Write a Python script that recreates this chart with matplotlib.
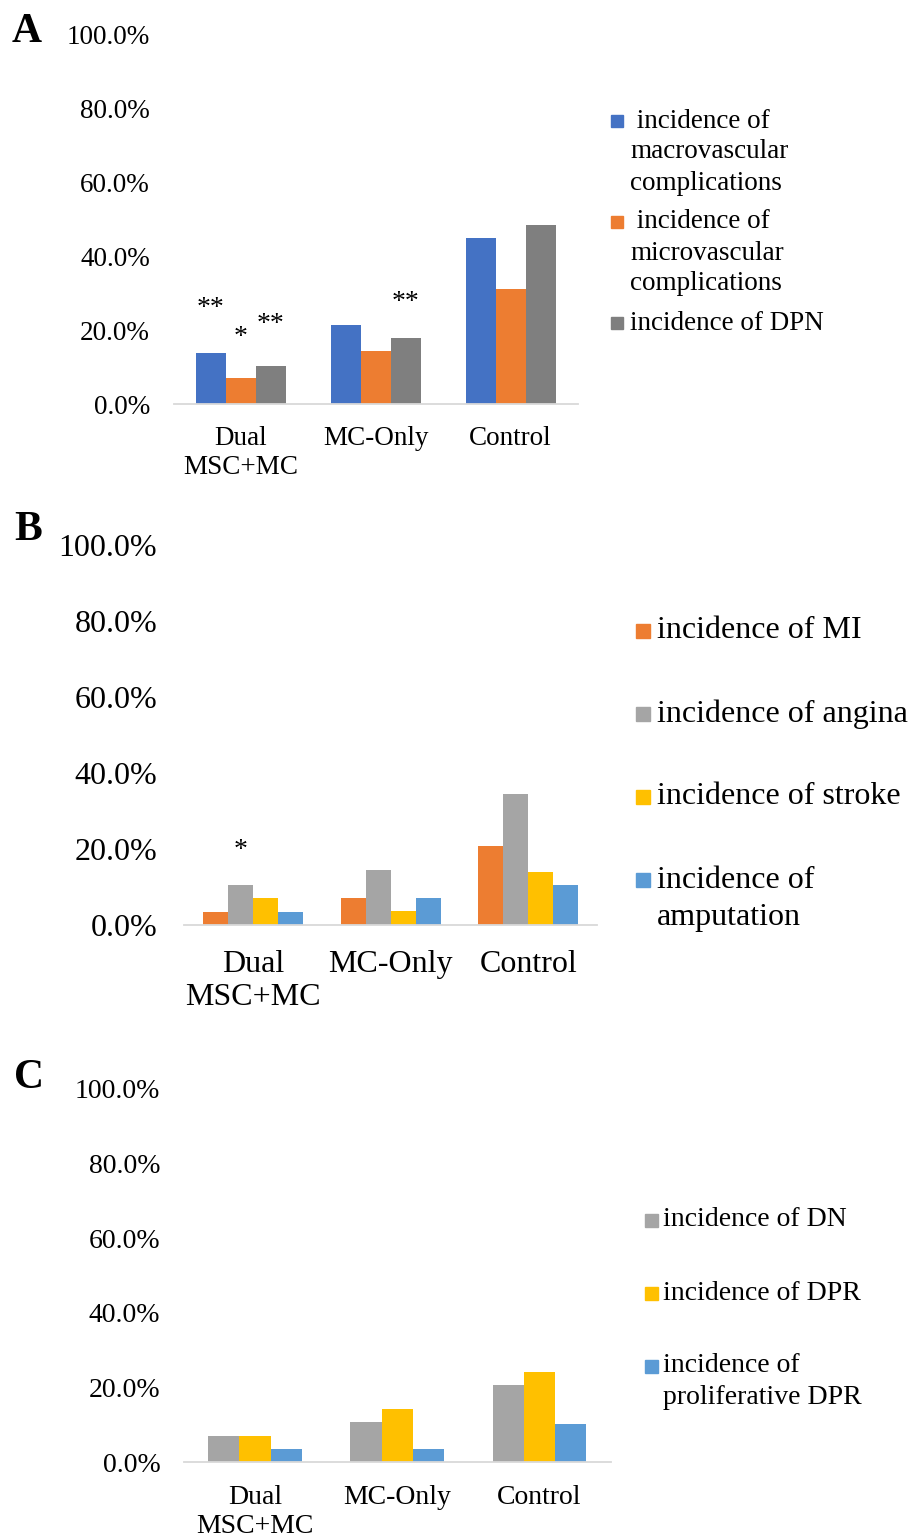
import matplotlib
matplotlib.use("Agg")
import matplotlib.pyplot as plt
from matplotlib.patches import Rectangle
import numpy as np

# --- data (percent) ---
groups = ["Dual\nMSC+MC", "MC-Only", "Control"]

a_labels = [" incidence of\nmacrovascular\ncomplications",
            " incidence of\nmicrovascular\ncomplications",
            "incidence of DPN"]
a_macro = [13.8, 21.4, 44.8]
a_micro = [6.9, 14.3, 31.0]
a_dpn = [10.3, 17.9, 48.3]

b_labels = ["incidence of MI", "incidence of angina",
            "incidence of stroke", "incidence of\namputation"]
b_mi = [3.4, 7.1, 20.7]
b_angina = [10.3, 14.3, 34.5]
b_stroke = [6.9, 3.6, 13.8]
b_amput = [3.4, 7.1, 10.3]

c_labels = ["incidence of DN", "incidence of DPR",
            "incidence of\nproliferative DPR"]
c_dn = [6.9, 10.7, 20.7]
c_dpr = [6.9, 14.3, 24.1]
c_pdpr = [3.4, 3.6, 10.3]

# significance marks: (group, series, text, y of star centre in %)
a_stars = [(0, 0, "**", 28.2), (0, 1, "*", 20.3), (0, 2, "**", 23.8), (1, 2, "**", 29.8)]
b_stars = [(0, 1, "*", 21.8)]

BLUE, ORANGE, DGRAY = "#4472C4", "#ED7D31", "#7F7F7F"
GRAY, YELLOW, LBLUE = "#A5A5A5", "#FFC000", "#5B9BD5"

plt.rcParams["font.family"] = ["Liberation Serif", "DejaVu Serif"]

W, H = 909, 1540
fig = plt.figure(figsize=(W / 100, H / 100), dpi=100)


def px_axes(left, right, top, bottom):
    return fig.add_axes([left / W, 1 - bottom / H, (right - left) / W, (bottom - top) / H])


def panel(ax, series, colors, group_w, fs, ypad, xpad, stars, star_fs):
    n = len(series)
    x = np.arange(len(groups))
    bw = group_w / n
    for i, (vals, c) in enumerate(zip(series, colors)):
        ax.bar(x - group_w / 2 + bw * (i + 0.5), vals, width=bw, color=c, zorder=2)
    for g, s, txt, y in stars:
        ax.annotate(txt, xy=(g - group_w / 2 + bw * (s + 0.5), y),
                    xytext=(0, -0.54 * star_fs), textcoords="offset points",
                    ha="center", va="baseline", fontsize=star_fs)
    ax.set_xlim(-0.5, len(groups) - 0.5)
    ax.set_ylim(0, 100)
    ax.set_yticks([0, 20, 40, 60, 80, 100])
    ax.set_yticklabels([f"{v:.1f}%" for v in [0, 20, 40, 60, 80, 100]])
    ax.set_xticks(x)
    ax.set_xticklabels(groups)
    ax.tick_params(axis="y", length=0, pad=ypad, labelsize=fs)
    ax.tick_params(axis="x", length=0, pad=xpad, labelsize=fs)
    for sp in ["top", "right", "left"]:
        ax.spines[sp].set_visible(False)
    ax.spines["bottom"].set_color("#D9D9D9")
    ax.spines["bottom"].set_linewidth(1.3)
    ax.set_facecolor("none")


def legend(labels, colors, x_box, x_text, y0, line_px, gap_px, box_px, fs):
    y = y0
    for lab, c in zip(labels, colors):
        lines = lab.split("\n")
        fig.add_artist(Rectangle(((x_box) / W, 1 - (y + box_px / 2) / H),
                                 box_px / W, box_px / H, color=c,
                                 transform=fig.transFigure))
        for j, ln in enumerate(lines):
            fig.text(x_text / W, 1 - (y + j * line_px) / H, ln, fontsize=fs,
                     ha="left", va="center")
        y += len(lines) * line_px + gap_px


# --- A ---
axA = px_axes(173.6, 578, 34, 404)
panel(axA, [a_macro, a_micro, a_dpn], [BLUE, ORANGE, DGRAY], 0.668, 19.5, 17, 16, a_stars, 20)
legend(a_labels, [BLUE, ORANGE, DGRAY], 611, 630, 121, 31, 8, 12, 19.5)
fig.text(12 / W, 1 - 42 / H, "A", fontsize=30, fontweight="bold", va="baseline")

# --- B ---
axB = px_axes(184.3, 597, 545, 924.5)
panel(axB, [b_mi, b_angina, b_stroke, b_amput], [ORANGE, GRAY, YELLOW, LBLUE], 0.727, 23, 19.4, 18, b_stars, 20)
legend(b_labels, [ORANGE, GRAY, YELLOW, LBLUE], 636, 657, 631, 37, 46, 14, 23)
fig.text(14 / W, 1 - 540 / H, "B", fontsize=30, fontweight="bold", va="baseline")

# --- C ---
axC = px_axes(184, 610.5, 1089, 1462)
panel(axC, [c_dn, c_dpr, c_pdpr], [GRAY, YELLOW, LBLUE], 0.66, 20, 17, 16.5, [], 20)
legend(c_labels, [GRAY, YELLOW, LBLUE], 645, 663, 1220, 32, 41, 13, 20)
fig.text(14 / W, 1 - 1088 / H, "C", fontsize=30, fontweight="bold", va="baseline")

fig.savefig("out.png", dpi=100)
